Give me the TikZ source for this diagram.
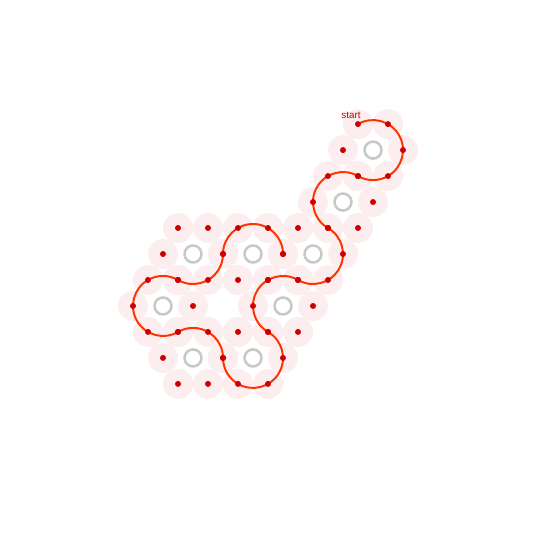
\documentclass[tikz,border=0pt]{standalone}
\usepackage{fontspec}
\setmainfont{Liberation Sans}
\usepackage{tikz}
\usetikzlibrary{calc, positioning}

\definecolor{discpink}{RGB}{252,238,238}
\definecolor{dotred}{RGB}{204,0,0}
\definecolor{pathred}{RGB}{255,51,0}
\definecolor{ringgray}{RGB}{200,200,200}

\begin{document}
\begin{tikzpicture}[x=0.025cm, y=0.025cm,
    disc/.style={fill=discpink},
    ring/.style={draw=ringgray, line width=1.8pt},
    reddot/.style={fill=dotred},
    trail/.style={draw=pathred, line width=1.4pt},
    startlabel/.style={text=dotred, font=\fontsize{7}{8}\selectfont, inner sep=0pt}]
    \useasboundingbox (0,0) rectangle (560,560);
    % Centres
    \coordinate (A)  at (373,409.92);
    \coordinate (B)  at (343,357.96);
    \coordinate (C1) at (193,306);
    \coordinate (C2) at (253,306);
    \coordinate (C3) at (313,306);
    \coordinate (D1) at (163,254.04);
    \coordinate (D2) at (283,254.04);
    \coordinate (E1) at (193,202.08);
    \coordinate (E2) at (253,202.08);
    % Discs
    \foreach \c in {A,B,C1,C2,C3,D1,D2,E1,E2} {
        \foreach \a in {0,60,...,300}
            \fill[disc] (\c) ++(\a:30) circle[radius=15];
    }
    % Rings
    \foreach \c in {A,B,C1,C2,C3,D1,D2,E1,E2}
        \draw[ring] (\c) circle[radius=8.5];
    % Path
    \draw[trail] ($(A)+(120:30)$) coordinate (start)
        arc[start angle=120, end angle=-120, radius=30]
        arc[start angle=60, end angle=240, radius=30]
        arc[start angle=60, end angle=-120, radius=30]
        arc[start angle=60, end angle=240, radius=30]
        arc[start angle=60, end angle=-180, radius=30]
        arc[start angle=0, end angle=120, radius=30]
        arc[start angle=-60, end angle=-300, radius=30]
        arc[start angle=-120, end angle=0, radius=30]
        arc[start angle=180, end angle=0, radius=30];
    % Dots
    \foreach \c in {A,B,C1,C2,C3,D1,D2,E1,E2} {
        \foreach \a in {0,60,...,300}
            \fill[reddot] (\c) ++(\a:30) circle[radius=3];
    }
    % Label
    \node[startlabel] (startlbl) at (351,444.5) {start};
\end{tikzpicture}
\end{document}
